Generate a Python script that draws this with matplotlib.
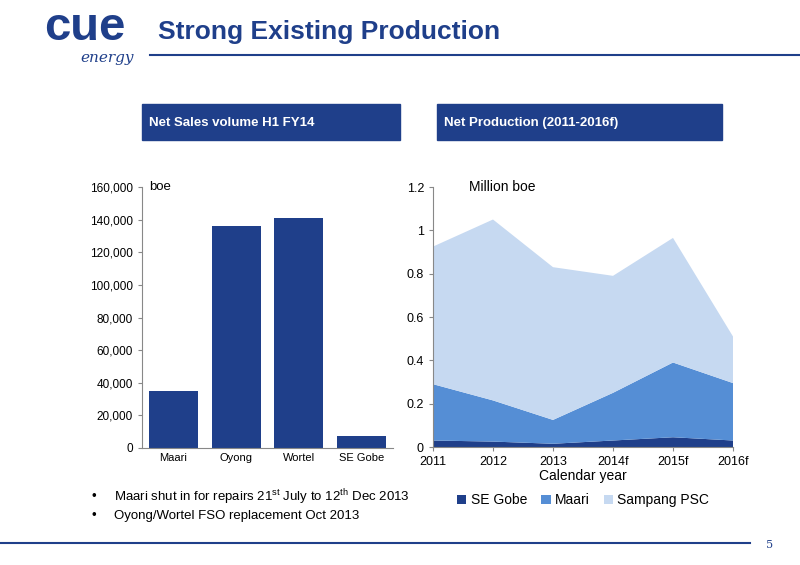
import matplotlib.pyplot as plt
import numpy as np

plt.rcParams['font.family'] = ['Liberation Sans', 'DejaVu Sans']
plt.rcParams['mathtext.fontset'] = 'custom'
plt.rcParams['mathtext.rm'] = 'Liberation Sans'

fields = ["Maari", "Oyong", "Wortel", "SE Gobe"]
sales = [35000, 136000, 141000, 7500]

years = ["2011", "2012", "2013", "2014f", "2015f", "2016f"]
se_gobe = [0.03, 0.025, 0.015, 0.03, 0.045, 0.03]
maari = [0.26, 0.19, 0.11, 0.22, 0.345, 0.265]
sampang = [0.635, 0.835, 0.705, 0.54, 0.575, 0.215]

navy = "#1F3F8A"
W, H = 800, 565
fig = plt.figure(figsize=(8, 5.65), dpi=100)

def fx(x): return x / W
def fy(y): return 1 - y / H

# header
fig.text(fx(44), fy(28), "cue", fontsize=34, fontweight="bold", color=navy, va="center")
fig.text(fx(80), fy(58), "energy", fontsize=11, style="italic", color=navy, va="center", family="DejaVu Serif")
fig.text(fx(158), fy(32), "Strong Existing Production", fontsize=19, fontweight="bold", color=navy, va="center")
fig.add_artist(plt.Line2D([fx(150), 1], [fy(55), fy(55)], color=navy, lw=1.5))
fig.add_artist(plt.Line2D([0, fx(750)], [fy(543), fy(543)], color=navy, lw=1.5))
fig.text(fx(766), fy(545), "5", fontsize=8, color=navy, va="center", family="DejaVu Serif")

for x0, x1, label in [(142, 400, "Net Sales volume H1 FY14"), (437, 722, "Net Production (2011-2016f)")]:
    fig.add_artist(plt.Rectangle((fx(x0), fy(140)), fx(x1 - x0), (140 - 104) / H, color=navy))
    fig.text(fx(x0 + 7), fy(123), label, fontsize=9.5, fontweight="bold", color="white", va="center")

# left bar chart
ax1 = fig.add_axes([fx(142), fy(448), fx(393 - 142), (448 - 187) / H])
ax1.bar(fields, sales, width=0.78, color=navy)
ax1.set_ylim(0, 160000)
ax1.set_yticks(np.arange(0, 160001, 20000))
ax1.set_yticklabels([f"{v:,}" for v in range(0, 160001, 20000)])
ax1.set_xlim(-0.5, 3.5)
for s in ["top", "right"]:
    ax1.spines[s].set_visible(False)
ax1.spines["left"].set_color("#888888")
ax1.spines["bottom"].set_color("#888888")
ax1.tick_params(labelsize=8.5, color="#888888", length=3)
ax1.tick_params(axis="x", length=0, labelsize=8)
ax1.text(0.03, 1.0, "boe", transform=ax1.transAxes, fontsize=9.5, va="center")

# right stacked area
ax2 = fig.add_axes([fx(433), fy(447), fx(733 - 433), (447 - 187) / H])
x = np.arange(len(years))
ax2.stackplot(x, se_gobe, maari, sampang, colors=[navy, "#558ED5", "#C6D9F1"],
              labels=["SE Gobe", "Maari", "Sampang PSC"])
ax2.set_xlim(0, len(years) - 1)
ax2.set_ylim(0, 1.2)
ax2.set_xticks(x)
ax2.set_xticklabels(years)
ax2.set_yticks([0, 0.2, 0.4, 0.6, 0.8, 1, 1.2])
ax2.set_yticklabels(["0", "0.2", "0.4", "0.6", "0.8", "1", "1.2"])
for s in ["top", "right"]:
    ax2.spines[s].set_visible(False)
ax2.spines["left"].set_color("#888888")
ax2.spines["bottom"].set_color("#888888")
ax2.tick_params(labelsize=9, color="#888888", length=3)
ax2.set_xlabel("Calendar year", fontsize=10, labelpad=1)
ax2.text(0.12, 1.0, "Million boe", transform=ax2.transAxes, fontsize=10, va="center")
ax2.legend(loc="upper center", bbox_to_anchor=(0.5, -0.13), ncol=3, frameon=False,
           fontsize=10, handlelength=0.7, handleheight=0.7, columnspacing=1.0, handletextpad=0.3)

# notes
fig.text(fx(92), fy(497), "•", fontsize=9.5, va="center")
fig.text(fx(92), fy(516), "•", fontsize=9.5, va="center")
fig.text(fx(114), fy(497), "Maari shut in for repairs 21$^{\\rm st}$ July to 12$^{\\rm th}$ Dec 2013", fontsize=9.5, va="center")
fig.text(fx(114), fy(516), "Oyong/Wortel FSO replacement Oct 2013", fontsize=9.5, va="center")

fig.savefig("out.png", dpi=100)
